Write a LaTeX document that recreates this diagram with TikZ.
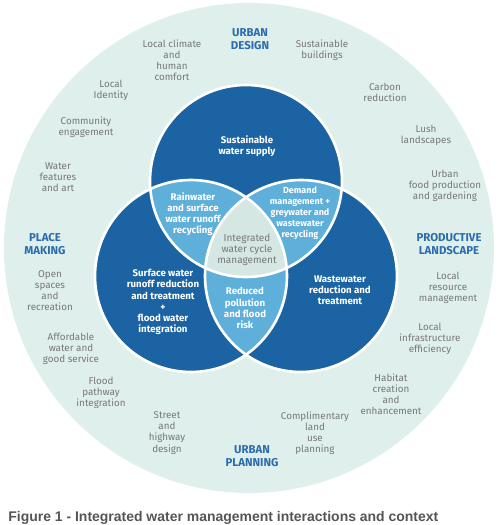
\documentclass[tikz,border=0pt]{standalone}
\usepackage{fontspec}
\setmainfont{Fira Sans}
\newfontfamily\capfont{Liberation Sans}
\usetikzlibrary{positioning}

\definecolor{ringmint}{HTML}{DFF0EC}
\definecolor{corefill}{HTML}{D5E7E3}
\definecolor{venndark}{HTML}{1B63A3}
\definecolor{vennlight}{HTML}{5EB0DA}
\definecolor{labelblue}{HTML}{2B6CAE}
\definecolor{ctxgray}{HTML}{777777}
\definecolor{capgray}{HTML}{555555}

\begin{document}
\begin{tikzpicture}[
		x=0.02cm, y=-0.02cm,
		ctx/.style={align=center, inner sep=0pt, text=ctxgray, font=\fontsize{5.6}{6.3}\selectfont},
		theme/.style={align=center, inner sep=0pt, text=labelblue, font=\fontsize{6.5}{7.4}\selectfont\bfseries},
		area/.style={align=center, inner sep=0pt, text=white, font=\fontsize{5.5}{6.3}\selectfont\bfseries},
		rim/.style={draw=white, line width=1.5pt}
		]
		\useasboundingbox (0,0) rectangle (500,525);
		
		% Centres
		\coordinate (hub) at (249,248);
		\coordinate (supply) at (246,181);
		\coordinate (surface) at (191,276);
		\coordinate (waste) at (301,276);
		
		% Outer ring
		\fill[ringmint] (hub) circle (245);
		
		% Venn circles
		\fill[venndark] (supply) circle (96);
		\fill[venndark] (surface) circle (96);
		\fill[venndark] (waste) circle (96);
		
		% Overlaps
		\begin{scope}
			\clip (supply) circle (96);
			\fill[vennlight] (surface) circle (96);
			\fill[vennlight] (waste) circle (96);
		\end{scope}
		\begin{scope}
			\clip (surface) circle (96);
			\fill[vennlight] (waste) circle (96);
		\end{scope}
		\begin{scope}
			\clip (supply) circle (96);
			\clip (surface) circle (96);
			\fill[corefill] (waste) circle (96);
		\end{scope}
		
		% White rims
		\draw[rim] (supply) circle (96);
		\draw[rim] (surface) circle (96);
		\draw[rim] (waste) circle (96);
		
		% Venn texts
		\node[area] (supplytxt) at (247,146) {Sustainable\\water supply};
		\node[area] (rainrec) at (193,214) {Rainwater\\and surface\\water runoff\\recycling};
		\node[area, font=\fontsize{5.1}{6.3}\selectfont\bfseries] (demand) at (300,213) {Demand\\management +\\greywater and\\wastewater\\recycling};
		\node[area, text=ctxgray, font=\fontsize{5.7}{6.3}\selectfont] (iwcm) at (247,250) {Integrated\\water cycle\\management};
		\node[area] (surfacetxt) at (163,302) {Surface water\\runoff reduction\\and treatment\\+\\flood water\\integration};
		\node[area] (pollution) at (245,308) {Reduced\\pollution\\and flood\\risk};
		\node[area] (wastetxt) at (340,290) {Wastewater\\reduction and\\treatment};
		
		% Themes
		\node[theme] (design) at (250,39) {URBAN\\DESIGN};
		\node[theme] (placemaking) at (45,244) {PLACE\\MAKING};
		\node[theme] (productive) at (449,244) {PRODUCTIVE\\LANDSCAPE};
		\node[theme] (planning) at (252,456) {URBAN\\PLANNING};
		
		% Context items
		\node[ctx] (climate) at (172,60) {Local climate\\and\\human\\comfort};
		\node[ctx] (buildings) at (322,50) {Sustainable\\buildings};
		\node[ctx] (identity) at (111,90) {Local\\Identity};
		\node[ctx] (carbon) at (385,92) {Carbon\\reduction};
		\node[ctx] (community) at (86,127) {Community\\engagement};
		\node[ctx] (lush) at (426,135) {Lush\\landscapes};
		\node[ctx] (features) at (58,177) {Water\\features\\and art};
		\node[ctx] (food) at (445,186) {Urban\\food production\\and gardening};
		\node[ctx] (spaces) at (50,291) {Open\\spaces\\and\\recreation};
		\node[ctx] (resource) at (448,288) {Local\\resource\\management};
		\node[ctx] (afford) at (71,349) {Affordable\\water and\\good service};
		\node[ctx] (infra) at (430,339) {Local\\infrastructure\\efficiency};
		\node[ctx] (pathway) at (101,393) {Flood\\pathway\\integration};
		\node[ctx] (habitat) at (391,394) {Habitat\\creation\\and\\enhancement};
		\node[ctx] (street) at (167,433) {Street\\and\\highway\\design};
		\node[ctx] (landuse) at (315,433) {Complimentary\\land\\use\\planning};
		
		% Caption
		\node[anchor=base west, inner sep=0pt, text=capgray, font=\capfont\fontsize{7.95}{9}\selectfont\bfseries] (caption) at (8,521) {Figure 1 - Integrated water management interactions and context};
	\end{tikzpicture}
\end{document}
